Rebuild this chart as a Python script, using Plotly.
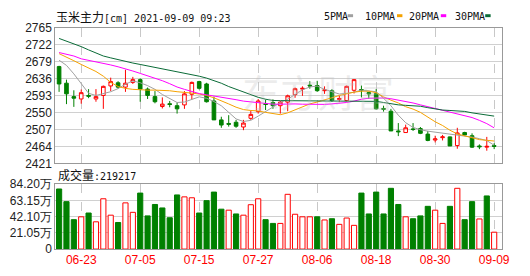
import plotly.graph_objects as go

# ---------------- data ----------------
dates = [
    "2021-06-18", "2021-06-21", "2021-06-22", "2021-06-23", "2021-06-24", "2021-06-25",
    "2021-06-28", "2021-06-29", "2021-06-30", "2021-07-01", "2021-07-02", "2021-07-05",
    "2021-07-06", "2021-07-07", "2021-07-08", "2021-07-09", "2021-07-12", "2021-07-13",
    "2021-07-14", "2021-07-15", "2021-07-16", "2021-07-19", "2021-07-20", "2021-07-21",
    "2021-07-22", "2021-07-23", "2021-07-26", "2021-07-27", "2021-07-28", "2021-07-29",
    "2021-07-30", "2021-08-02", "2021-08-03", "2021-08-04", "2021-08-05", "2021-08-06",
    "2021-08-09", "2021-08-10", "2021-08-11", "2021-08-12", "2021-08-13", "2021-08-16",
    "2021-08-17", "2021-08-18", "2021-08-19", "2021-08-20", "2021-08-23", "2021-08-24",
    "2021-08-25", "2021-08-26", "2021-08-27", "2021-08-30", "2021-08-31", "2021-09-01",
    "2021-09-02", "2021-09-03", "2021-09-06", "2021-09-07", "2021-09-08", "2021-09-09",
]
opens = [2666, 2624, 2590, 2584, 2593, 2584, 2593, 2617, 2625, 2614, 2626, 2633, 2609, 2590, 2565,
         2572, 2567, 2569, 2596, 2628, 2622, 2579, 2531, 2522, 2525, 2513, 2535, 2552, 2572, 2575,
         2567, 2576, 2595, 2609, 2619, 2618, 2605, 2605, 2583, 2580, 2606, 2608, 2600, 2598, 2560,
         2553, 2503, 2499, 2508, 2509, 2495, 2480, 2486, 2488, 2466, 2499, 2491, 2465, 2462, 2466]
highs = [2668, 2633, 2606, 2608, 2609, 2609, 2618, 2638, 2629, 2658, 2640, 2636, 2613, 2604, 2588,
         2579, 2575, 2604, 2628, 2630, 2625, 2590, 2539, 2543, 2531, 2531, 2555, 2584, 2582, 2583,
         2579, 2595, 2613, 2616, 2629, 2630, 2616, 2609, 2592, 2618, 2634, 2618, 2602, 2609, 2567,
         2559, 2523, 2519, 2523, 2513, 2503, 2491, 2493, 2489, 2511, 2501, 2497, 2469, 2488, 2472]
lows = [2602, 2571, 2564, 2572, 2586, 2577, 2559, 2604, 2610, 2602, 2622, 2577, 2584, 2573, 2560,
        2563, 2547, 2559, 2583, 2608, 2575, 2531, 2511, 2514, 2511, 2505, 2531, 2547, 2556, 2559,
        2547, 2553, 2587, 2592, 2610, 2602, 2597, 2577, 2576, 2578, 2598, 2588, 2584, 2557, 2552,
        2503, 2490, 2499, 2503, 2495, 2477, 2474, 2479, 2465, 2458, 2491, 2460, 2457, 2453, 2457]
closes = [2622, 2597, 2586, 2600, 2591, 2590, 2616, 2628, 2614, 2624, 2633, 2609, 2593, 2577, 2571,
          2570, 2559, 2597, 2626, 2611, 2577, 2531, 2518, 2520, 2515, 2523, 2545, 2579, 2570, 2567,
          2576, 2592, 2610, 2611, 2617, 2605, 2607, 2580, 2585, 2616, 2633, 2606, 2597, 2559, 2558,
          2503, 2501, 2511, 2507, 2497, 2479, 2483, 2488, 2465, 2498, 2493, 2462, 2463, 2464, 2464]

ma5 = [2682.1, 2669.1, 2647.6, 2622.7, 2598.4, 2592.9, 2597.7, 2602.4, 2610.3, 2621.5,
       2629.8, 2625.0, 2617.9, 2608.4, 2595.3, 2584.6, 2575.1, 2576.3, 2582.2, 2589.4,
       2585.8, 2577.5, 2566.8, 2548.9, 2533.5, 2527.0, 2529.9, 2540.6, 2552.5, 2562.7,
       2575.1, 2583.4, 2595.3, 2607.2, 2614.3, 2616.7, 2608.4, 2602.4, 2596.5, 2598.4,
       2601.2, 2606.5, 2604.8, 2602.4, 2585.8, 2566.8, 2543.0, 2523.9, 2512.0, 2506.1,
       2502.5, 2500.1, 2497.8, 2495.4, 2493.7, 2491.8, 2487.5, 2483.5, 2478.7, 2466.8]
ma10 = [2698.8, 2690.5, 2680.9, 2671.4, 2663.1, 2653.6, 2641.7, 2626.2, 2615.5, 2610.8,
        2608.4, 2606.5, 2606.5, 2606.5, 2606.5, 2604.8, 2602.4, 2601.2, 2598.9, 2596.5,
        2592.9, 2587.0, 2579.8, 2571.5, 2563.2, 2557.2, 2554.9, 2553.7, 2550.1, 2546.5,
        2544.2, 2548.9, 2556.0, 2564.4, 2571.5, 2576.3, 2581.0, 2587.0, 2592.9, 2597.7,
        2601.2, 2603.6, 2603.6, 2600.0, 2589.4, 2581.0, 2573.9, 2564.4, 2558.4, 2550.1,
        2538.2, 2526.3, 2516.8, 2504.9, 2495.4, 2490.6, 2484.7, 2481.1, 2479.4, 2477.5]
ma20 = [2701.6, 2697.6, 2692.8, 2685.7, 2682.1, 2678.6, 2673.8, 2670.2, 2665.5, 2660.7,
        2654.8, 2648.8, 2642.9, 2636.9, 2630.3, 2622.7, 2614.3, 2608.4, 2602.4, 2597.7,
        2594.6, 2591.7, 2589.4, 2585.8, 2582.2, 2578.6, 2576.3, 2573.9, 2571.5, 2570.8,
        2570.8, 2571.5, 2571.5, 2570.8, 2570.3, 2570.3, 2570.3, 2571.5, 2572.7, 2575.1,
        2578.6, 2583.4, 2585.8, 2587.0, 2586.5, 2584.6, 2581.0, 2578.6, 2573.9, 2569.1,
        2564.4, 2559.6, 2554.9, 2550.1, 2545.3, 2540.6, 2537.0, 2529.9, 2521.6, 2510.9]
ma30 = [2737.3, 2730.9, 2723.8, 2716.6, 2708.3, 2700.0, 2692.8, 2688.1, 2683.3, 2678.6,
        2675.0, 2671.4, 2667.9, 2664.3, 2659.5, 2656.0, 2652.4, 2648.8, 2645.3, 2641.7,
        2636.9, 2631.0, 2623.9, 2615.5, 2608.4, 2602.4, 2595.3, 2588.2, 2583.4, 2580.3,
        2579.8, 2579.8, 2579.8, 2579.8, 2579.8, 2579.8, 2579.8, 2579.4, 2578.6, 2578.6,
        2578.6, 2578.6, 2578.6, 2577.9, 2575.1, 2571.5, 2569.1, 2567.9, 2566.8, 2565.6,
        2562.0, 2558.4, 2556.0, 2554.9, 2553.7, 2552.5, 2548.9, 2546.5, 2543.0, 2540.6]

# volume in units of 万 (10,000 lots)
volumes = [78.0, 61.6, 38.2, 41.9, 46.8, 35.4, 65.3, 44.0, 34.5, 60.0, 47.7, 72.7, 43.1, 57.9, 53.4,
           40.7, 70.3, 67.8, 66.6, 46.8, 62.9, 74.0, 51.8, 50.5, 45.6, 44.0, 57.6, 65.3, 38.2, 33.3,
           33.3, 71.1, 45.2, 41.9, 41.9, 41.9, 37.8, 39.4, 32.1, 40.3, 30.8, 72.7, 45.6, 74.0, 45.6,
           78.9, 57.9, 41.9, 39.4, 43.1, 55.5, 50.5, 33.3, 55.5, 78.9, 38.2, 61.6, 39.1, 69.0, 21.9217]
vol_up = [0, 0, 0, 1, 0, 1, 1, 1, 0, 1, 1, 0, 0, 0, 0, 0, 0, 1, 1, 0, 0, 0, 0, 1, 0, 1, 1, 1, 0, 0,
          1, 1, 1, 1, 1, 0, 1, 0, 1, 1, 1, 0, 0, 0, 0, 0, 0, 1, 0, 0, 0, 1, 1, 0, 1, 0, 0, 1, 0, 1]

tick_dates = ["2021-06-23", "2021-07-05", "2021-07-15", "2021-07-27",
              "2021-08-06", "2021-08-18", "2021-08-30", "2021-09-09"]
tick_labels = ["06-23", "07-05", "07-15", "07-27", "08-06", "08-18", "08-30", "09-09"]
price_ticks = [2421, 2464, 2507, 2550, 2593, 2636, 2679, 2722, 2765]
vol_ticks = [0, 21.05, 42.10, 63.15, 84.20]
vol_tick_labels = ["0", "21.05万", "42.10万", "63.15万", "84.20万"]

title_cn = "玉米主力"
title_rest = "[cm] 2021-09-09 09:23"
vol_title = "成交量"
vol_last = "219217"
ma_names = ["5PMA", "10PMA", "20PMA", "30PMA"]
ma_colors = ["#a0a0a0", "#f5a200", "#ff00ff", "#0a6b37"]

# ---------------- figure ----------------
W, H = 530, 276
RED, GREEN = "#ff0000", "#008000"


def px(x):
    return x / W


def py(y):
    return 1 - y / H


fig = go.Figure()
fig.add_trace(go.Candlestick(
    x=dates, open=opens, high=highs, low=lows, close=closes,
    xaxis="x2", yaxis="y2", whiskerwidth=0,
    increasing=dict(line=dict(color=RED, width=1), fillcolor="#ffffff"),
    decreasing=dict(line=dict(color=GREEN, width=1), fillcolor=GREEN),
    hoverinfo="skip", showlegend=False,
))
for vals, col in zip([ma5, ma10, ma20, ma30], ma_colors):
    fig.add_trace(go.Scatter(x=dates, y=vals, mode="lines", line=dict(color=col, width=1),
                             xaxis="x2", yaxis="y2", hoverinfo="skip", showlegend=False))

fig.add_trace(go.Bar(
    x=dates, y=volumes, xaxis="x", yaxis="y",
    marker=dict(color=["#ffffff" if u else GREEN for u in vol_up],
                line=dict(color=[RED if u else GREEN for u in vol_up], width=1)),
    hoverinfo="skip", showlegend=False,
))

xdom = [px(56), px(509)]
common_x = dict(type="category", domain=xdom, range=[-0.52, 60.1], tickvals=tick_dates,
                showgrid=True, gridcolor="#c8c8c8", griddash="dash", gridwidth=1,
                showline=True, linecolor="#999999", linewidth=1, mirror=True, ticks="",
                zeroline=False, fixedrange=True)
axis_font = dict(family="Liberation Sans, Arial, sans-serif", size=12, color="#222222")

fig.update_layout(
    width=W, height=H, margin=dict(l=0, r=0, t=0, b=0),
    paper_bgcolor="#ffffff", plot_bgcolor="#ffffff",
    bargap=0.3, showlegend=False,
    xaxis=dict(**common_x, anchor="y", ticktext=tick_labels,
               tickfont=dict(family="Liberation Sans, Arial, sans-serif", size=12, color=RED)),
    xaxis2=dict(**common_x, anchor="y2", matches="x", showticklabels=False,
                rangeslider=dict(visible=False)),
    yaxis=dict(domain=[py(255), py(186.7)], range=[0, 84.2], tickvals=vol_ticks,
               ticktext=vol_tick_labels, tickfont=axis_font, showgrid=True, gridcolor="#d0d0d0",
               showline=True, linecolor="#999999", mirror=True, ticks="", zeroline=False,
               fixedrange=True),
    yaxis2=dict(domain=[py(164.7), py(21.6)], range=[2421, 2765], tickvals=price_ticks,
                tickfont=axis_font, showgrid=True, gridcolor="#d0d0d0",
                showline=True, linecolor="#999999", mirror=True, ticks="", zeroline=False,
                fixedrange=True),
)

mono = "DejaVu Sans Mono, monospace"
cjk_span = '<span style="font-family:Noto Sans CJK SC;font-size:12px">{}</span>'

annotations = [
    # watermark
    dict(text="东方财富", x=px(322), y=py(88), xref="paper", yref="paper", showarrow=False,
         font=dict(family="Noto Sans CJK SC", size=38, color="rgba(190,190,190,0.28)"),
         xanchor="center", yanchor="middle"),
    dict(text=cjk_span.format(title_cn) + title_rest, x=px(55), y=py(9.5), xref="paper",
         yref="paper", showarrow=False, xanchor="left", yanchor="middle",
         font=dict(family=mono, size=10, color="#111111")),
    dict(text=cjk_span.format(vol_title) + ":" + vol_last, x=px(57), y=py(176.7), xref="paper",
         yref="paper", showarrow=False, xanchor="left", yanchor="middle",
         font=dict(family=mono, size=10, color="#111111")),
]
legend_x = [326, 367.7, 412.7, 459.3]
mark_x = [352.3, 402.3, 446.7, 491.7]
shapes = []
for name, col, lx, mx in zip(ma_names, ma_colors, legend_x, mark_x):
    annotations.append(dict(text=name, x=px(lx), y=py(9.5), xref="paper", yref="paper",
                            showarrow=False, xanchor="left", yanchor="middle",
                            font=dict(family=mono, size=10, color="#111111")))
    shapes.append(dict(type="rect", xref="paper", yref="paper", x0=px(mx), x1=px(mx + 5.5),
                       y0=py(10.7), y1=py(7.6), fillcolor=col, line=dict(width=0)))

fig.update_layout(annotations=annotations, shapes=shapes)
fig.write_html("out.html", config={"displayModeBar": False})
